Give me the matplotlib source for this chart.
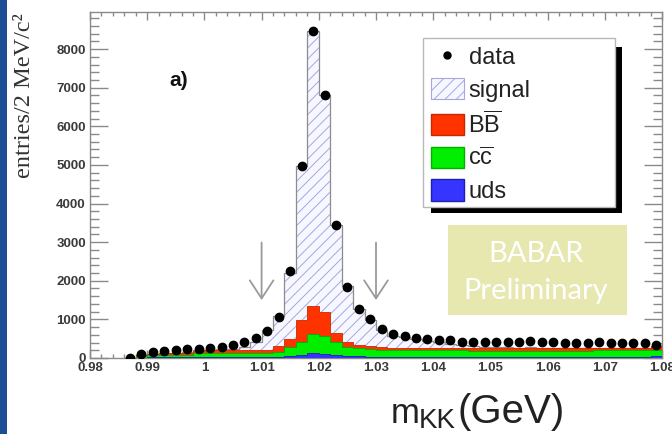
import numpy as np
import matplotlib
matplotlib.use("Agg")
import matplotlib.pyplot as plt
from matplotlib.patches import Patch, Rectangle
from matplotlib.lines import Line2D

plt.rcParams['mathtext.fontset'] = 'custom'
plt.rcParams['mathtext.rm'] = 'Liberation Sans'
plt.rcParams['mathtext.it'] = 'Liberation Sans:italic'
plt.rcParams['hatch.linewidth'] = 0.7

# ---------------- data ----------------
bin_width = 0.002
bin_centers = np.round(0.987 + bin_width * np.arange(47), 3)

data = [0, 100, 150, 190, 195, 225, 245, 255, 290, 345,
        425, 520, 700, 1060, 2250, 4980, 8480, 6810, 3450, 1850,
        1270, 1000, 760, 620, 560, 510, 485, 455, 460, 425,
        420, 420, 415, 410, 410, 430, 405, 405, 400, 400,
        395, 405, 400, 395, 390, 385, 330]

uds = [0, 10, 15, 20, 20, 20, 25, 25, 25, 25,
       25, 25, 25, 35, 50, 90, 120, 110, 70, 50,
       40, 35, 35, 35, 35, 35, 35, 35, 35, 35,
       35, 35, 35, 35, 35, 35, 35, 35, 35, 35,
       35, 35, 35, 35, 35, 35, 40]

ccbar = [0, 40, 55, 60, 65, 70, 95, 105, 110, 115,
         115, 115, 115, 130, 245, 335, 500, 450, 350, 240,
         210, 195, 185, 175, 170, 165, 165, 160, 160, 160,
         155, 155, 155, 155, 155, 155, 155, 155, 155, 155,
         155, 160, 160, 160, 165, 175, 180]

bbbar = [0, 20, 30, 40, 45, 50, 70, 80, 80, 75,
         75, 70, 70, 145, 185, 550, 730, 620, 240, 130,
         90, 70, 60, 60, 60, 60, 55, 60, 55, 55,
         60, 60, 60, 60, 60, 65, 60, 60, 60, 60,
         60, 55, 55, 55, 55, 50, 80]

signal = [0, 0, 5, 5, 5, 10, 10, 10, 15, 25,
          60, 200, 510, 790, 1720, 4000, 7130, 5630, 2780, 1450,
          930, 680, 450, 310, 270, 225, 195, 160, 120, 80,
          55, 40, 30, 25, 20, 18, 15, 15, 13, 12,
          10, 10, 8, 8, 7, 6, 5]

xtick_vals = [0.98, 0.99, 1.00, 1.01, 1.02, 1.03, 1.04, 1.05, 1.06, 1.07, 1.08]
xtick_labels = ["0.98", "0.99", "1", "1.01", "1.02", "1.03", "1.04", "1.05", "1.06", "1.07", "1.08"]
ytick_vals = [0, 1000, 2000, 3000, 4000, 5000, 6000, 7000, 8000]
cut_positions = [1.01, 1.03]
arrow_range = [2990, 1500]

# ---------------- figure ----------------
W, H = 672, 434
fig = plt.figure(figsize=(W / 100, H / 100), dpi=100)
fig.patch.set_facecolor('white')

def fx(px):
    return px / W

def fy(py):
    return 1 - py / H

# slide background strip on the left
fig.patches.append(Rectangle((0, 0), fx(7), 1, transform=fig.transFigure,
                             facecolor='#1c4e95', edgecolor='none', zorder=0))

ax = fig.add_axes([fx(90), fy(358), fx(662 - 90), (358 - 12) / H])

edges = np.concatenate([bin_centers - bin_width / 2, [bin_centers[-1] + bin_width / 2]])
u = np.array(uds, float)
g = u + np.array(ccbar, float)
r = g + np.array(bbbar, float)
s = r + np.array(signal, float)

# signal (hatched) on top of the background stack
ax.stairs(s, edges, baseline=r, fill=True, facecolor='#f7f7ff',
          edgecolor='#a6a6e4', hatch='///', linewidth=0, zorder=1)
ax.stairs(s, edges, baseline=0, fill=False, color='#8c8c8c', linewidth=0.9, zorder=2)
ax.stairs(r, edges, baseline=g, fill=True, facecolor='#ff3300',
          edgecolor='#c82800', linewidth=0.6, zorder=3)
ax.stairs(g, edges, baseline=u, fill=True, facecolor='#00ee00',
          edgecolor='#00b000', linewidth=0.6, zorder=3)
ax.stairs(u, edges, baseline=0, fill=True, facecolor='#3535ff',
          edgecolor='#2020b0', linewidth=0.6, zorder=3)

ax.plot(bin_centers, data, 'o', color='black', markersize=6, zorder=6)

for xc in cut_positions:
    ax.annotate('', xy=(xc, arrow_range[1]), xytext=(xc, arrow_range[0]),
                arrowprops=dict(arrowstyle='->,head_length=1.3,head_width=0.85',
                                color='#9a9a9a', lw=1.3, shrinkA=0, shrinkB=0,
                                mutation_scale=10), zorder=4)

ax.set_xlim(0.98, 1.08)
ax.set_ylim(0, 8960)
ax.set_xticks(xtick_vals)
ax.set_xticklabels(xtick_labels)
ax.set_xticks(np.arange(0.98, 1.0801, 0.002), minor=True)
ax.set_yticks(ytick_vals)
ax.set_yticks(np.arange(0, 8960, 200), minor=True)

for sp in ax.spines.values():
    sp.set_color('#8a8a8a')
    sp.set_linewidth(1.0)

ax.tick_params(axis='x', which='major', direction='in', length=5.8, width=1,
               color='#8a8a8a', top=True, bottom=True, pad=3)
ax.tick_params(axis='x', which='minor', direction='in', length=2.9, width=1,
               color='#8a8a8a', top=True, bottom=True)
ax.tick_params(axis='y', which='major', direction='in', length=13, width=1,
               color='#8a8a8a', left=True, right=True, pad=3)
ax.tick_params(axis='y', which='minor', direction='in', length=6.5, width=1,
               color='#8a8a8a', left=True, right=True)
for lab in ax.get_xticklabels() + ax.get_yticklabels():
    lab.set_fontfamily('Liberation Sans')
    lab.set_fontweight('bold')
    lab.set_fontsize(9.5)
    lab.set_color('#3a3a3a')

# legend frame with ROOT style shadow
fig.patches.append(Rectangle((fx(431), fy(213)), fx(622 - 431), (213 - 47) / H,
                             transform=fig.transFigure, facecolor='black',
                             edgecolor='none', zorder=7))
fig.patches.append(Rectangle((fx(423), fy(207)), fx(615 - 423), (207 - 38) / H,
                             transform=fig.transFigure, facecolor='white',
                             edgecolor='#b8b8b8', linewidth=1, zorder=8))

handles = [
    Line2D([], [], marker='o', color='black', ls='none', markersize=5),
    Patch(facecolor='#f7f7ff', edgecolor='#a6a6e4', hatch='///', linewidth=0.8),
    Patch(facecolor='#ff3300', edgecolor='#c82800'),
    Patch(facecolor='#00ee00', edgecolor='#00b000'),
    Patch(facecolor='#3535ff', edgecolor='#2020b0'),
]
labels = ['data', 'signal', r'$\mathrm{B\overline{B}}$', r'$\mathrm{c\overline{c}}$', 'uds']
leg = fig.legend(handles, labels, loc='upper left',
                 bbox_to_anchor=(fx(426), fy(41)), bbox_transform=fig.transFigure,
                 borderaxespad=0, frameon=False,
                 prop={'family': 'Liberation Sans', 'size': 17},
                 handlelength=1.4, handleheight=1.0, handletextpad=0.2,
                 labelspacing=0.38, borderpad=0.2)
leg.set_zorder(9)
for t in leg.get_texts():
    t.set_color('#222222')

# BABAR preliminary tag
fig.patches.append(Rectangle((fx(448), fy(315)), fx(627 - 448), (315 - 225) / H,
                             transform=fig.transFigure, facecolor='#e7e7b0',
                             edgecolor='none', zorder=7))
fig.text(fx(536), fy(254), 'BABAR', ha='center', va='center', fontsize=21,
         family='Lato', color='white', zorder=9)
fig.text(fx(536), fy(291), 'Preliminary', ha='center', va='center', fontsize=21,
         family='Lato', color='white', zorder=9)

# panel label
fig.text(fx(179), fy(80), 'a)', ha='center', va='center', fontsize=15,
         fontweight='bold', family='Liberation Sans', color='#111111')

# axis titles
fig.text(fx(25), fy(96), 'entries/2 MeV/c²', rotation=90, ha='center', va='center',
         fontsize=17.5, family='Liberation Serif', color='#333333')
fig.text(fx(391), fy(423), 'm', ha='left', va='baseline', fontsize=25,
         family='Liberation Sans', color='#222222')
fig.text(fx(419), fy(428), 'KK', ha='left', va='baseline', fontsize=20,
         family='Liberation Sans', color='#222222')
fig.text(fx(458), fy(423), '(GeV)', ha='left', va='baseline', fontsize=29,
         family='Liberation Sans', color='#222222')

fig.savefig('out.png', dpi=100)
